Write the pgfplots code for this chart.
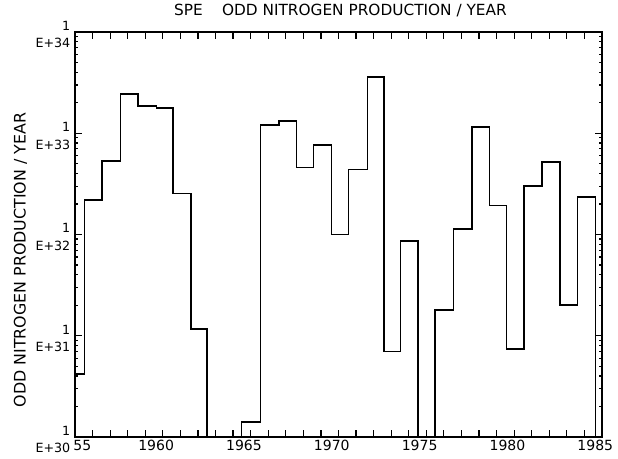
\documentclass[border=0pt]{standalone}
\usepackage{pgfplots}
\pgfplotsset{compat=1.18}
\usepackage{fontspec}
\setmainfont{DejaVu Sans}
\begin{document}
\begin{tikzpicture}[x=1pt,y=1pt]
\path[use as bounding box] (-56.25,-15.75) rectangle (407.25,327.75);
\begin{axis}[
  at={(0,0)}, anchor=south west,
  scale only axis, width=395.25pt, height=303.75pt,
  xmin=1955, xmax=1985,
  ymode=log, ymin=1e30, ymax=1e34,
  axis line style={line width=1.5pt},
  tick style={line width=0.9pt, black},
  major tick length=5pt, minor tick length=2.5pt,
  tick align=inside,
  xtick={1955,...,1985},
  xticklabels={\hspace*{21pt}55,,,,,1960,,,,,1965,,,,,1970,,,,,1975,,,,,1980,,,,,1985},
  xticklabel style={font=\fontsize{10.5}{12}\selectfont, xshift=-5pt, yshift=1pt},
  ytick={1e30,1e31,1e32,1e33,1e34},
  yticklabels={{1\\E+30},{1\\E+31},{1\\E+32},{1\\E+33},{1\\E+34}},
  yticklabel style={align=right, font=\fontsize{9.5}{13}\selectfont, yshift=-2pt},
  /pgf/number format/assume math mode=true,
  title={SPE\hspace{1.25em}ODD NITROGEN PRODUCTION / YEAR},
  title style={at={(0.5,1)}, anchor=base, xshift=1.5pt, yshift=6.5pt, inner sep=0pt, font=\fontsize{11.5}{13}\selectfont},
  ylabel={ODD NITROGEN PRODUCTION / YEAR},
  ylabel style={at={(-0.1035,0.437)}, anchor=center, font=\fontsize{11.9}{13}\selectfont},
  clip=true,
]
\addplot[const plot, black, line width=1.2pt] coordinates {
(1955, 4.2e30)
(1955.55, 2.2e32)
(1956.55, 5.3e32)
(1957.6, 2.45e33)
(1958.6, 1.86e33)
(1959.65, 1.78e33)
(1960.58, 2.55e32)
(1961.6, 1.17e31)
(1962.52, 1e29)
(1964.47, 1.4e30)
(1965.55, 1.2e33)
(1966.6, 1.32e33)
(1967.6, 4.6e32)
(1968.57, 7.6e32)
(1969.6, 1.0e32)
(1970.57, 4.4e32)
(1971.65, 3.6e33)
(1972.6, 7e30)
(1973.52, 8.6e31)
(1974.52, 1e29)
(1975.5, 1.8e31)
(1976.55, 1.14e32)
(1977.6, 1.15e33)
(1978.6, 1.94e32)
(1979.57, 7.4e30)
(1980.55, 3.0e32)
(1981.6, 5.2e32)
(1982.6, 2.0e31)
(1983.6, 2.35e32)
(1984.62, 1e29)
(1985, 1e29)
};
\end{axis}
\end{tikzpicture}
\end{document}
